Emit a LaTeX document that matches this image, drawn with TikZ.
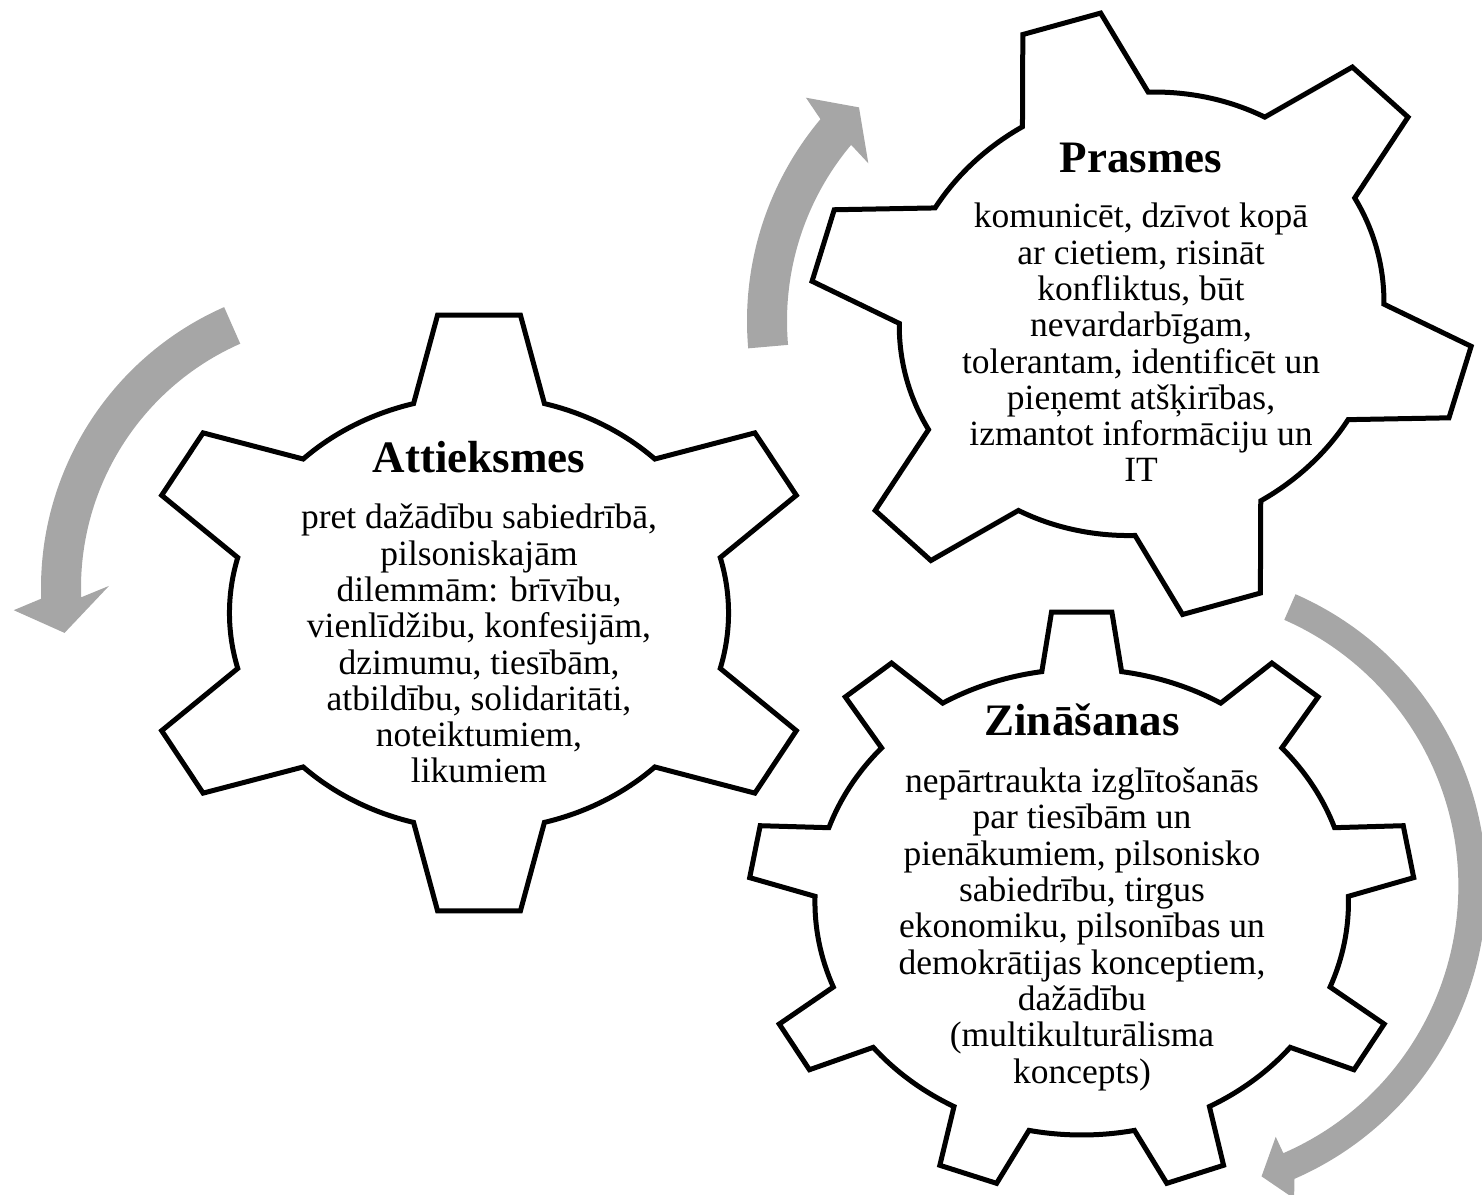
\documentclass[tikz,border=0pt]{standalone}
\usepackage{fontspec}
\setmainfont{Liberation Serif}

\definecolor{arrowgray}{RGB}{166,166,166}

\tikzset{
  gearline/.style={draw=black, line width=2.5pt, line join=miter, fill=white},
  arrowband/.style={fill=arrowgray},
  gearhead/.style={font=\fontsize{22.5}{27}\selectfont\bfseries, anchor=base, inner sep=0pt},
  geartext/.style={font=\fontsize{17.75}{18.15}\selectfont, align=center, anchor=base, inner sep=0pt},
}

% #1 teeth, #2 first tooth angle, #3 tip radius, #4 root radius, #5 tip half angle, #6 root half angle
\newcommand{\gearoutline}[6]{%
  \draw[gearline] ({#2-#6}:#4)
    \foreach \k [evaluate=\k as \a using {#2+(\k-1)*360/#1}] in {1,...,#1}{
      -- ({\a-#5}:#3) -- ({\a+#5}:#3) -- ({\a+#6}:#4)
      arc[start angle={\a+#6}, end angle={\a+360/#1-#6}, radius=#4]
    } -- cycle;}

% #1 radius, #2 width, #3 tail angle, #4 shaft end angle, #5 tip angle,
% #6 head half width, #7 outer barb angle, #8 inner barb angle
\newcommand{\turnarrow}[8]{%
  \fill[arrowband] ({#3}:{#1+#2/2}) arc[start angle=#3, end angle=#4, radius={#1+#2/2}]
    -- ({#7}:{#1+#6}) -- ({#5}:{#1}) -- ({#8}:{#1-#6}) -- ({#4}:{#1-#2/2})
    arc[start angle=#4, end angle=#3, radius={#1-#2/2}] -- cycle;}

\begin{document}
\begin{tikzpicture}[x=0.5pt, y=0.5pt]
\useasboundingbox (0,0) rectangle (1482,1194);

% turning arrows
\begin{scope}[shift={(348,606)}]
  \turnarrow{287}{40}{113.8}{182}{189}{48}{183.8}{179.5}
\end{scope}
\begin{scope}[shift={(1061,873)}]
  \turnarrow{294}{40}{185}{140}{133.4}{45}{138.8}{140.7}
\end{scope}
\begin{scope}[shift={(1167.3,307.7)}]
  \turnarrow{305}{28}{66.3}{-66.5}{-72}{32}{-67.9}{-66.6}
\end{scope}

% gears
\begin{scope}[shift={(479,581)}, xscale=1.15]
  \gearoutline{6}{90}{300}{217}{6.9}{15.2}
\end{scope}
\begin{scope}[shift={(1141.6,880.2)}, rotate=15.4, xscale=1.109]
  \gearoutline{6}{90}{303}{220}{6.9}{15.5}
\end{scope}
\begin{scope}[shift={(1081.7,292)}, xscale=1.145]
  \gearoutline{9}{90}{291}{233}{5.2}{8.6}
\end{scope}

% texts (body nodes sit on the baseline of their last line)
\node[gearhead] (attitle) at (479,721) {Attieksmes};
\node[geartext] (atbody) at (479,411) {pret dažādību sabiedrībā,\\ pilsoniskajām\\ dilemmām: brīvību,\\ vienlīdžibu, konfesijām,\\ dzimumu, tiesībām,\\ atbildību, solidaritāti,\\ noteiktumiem,\\ likumiem};

\node[gearhead] (prtitle) at (1141,1021) {Prasmes};
\node[geartext] (prbody) at (1141,712) {komunicēt, dzīvot kopā\\ ar cietiem, risināt\\ konfliktus, būt\\ nevardarbīgam,\\ tolerantam, identificēt un\\ pieņemt atšķirības,\\ izmantot informāciju un\\ IT};

\node[gearhead] (zntitle) at (1082,458) {Zināšanas};
\node[geartext] (znbody) at (1082,111) {nepārtraukta izglītošanās\\ par tiesībām un\\ pienākumiem, pilsonisko\\ sabiedrību, tirgus\\ ekonomiku, pilsonības un\\ demokrātijas konceptiem,\\ dažādību\\ (multikulturālisma\\ koncepts)};
\end{tikzpicture}
\end{document}
